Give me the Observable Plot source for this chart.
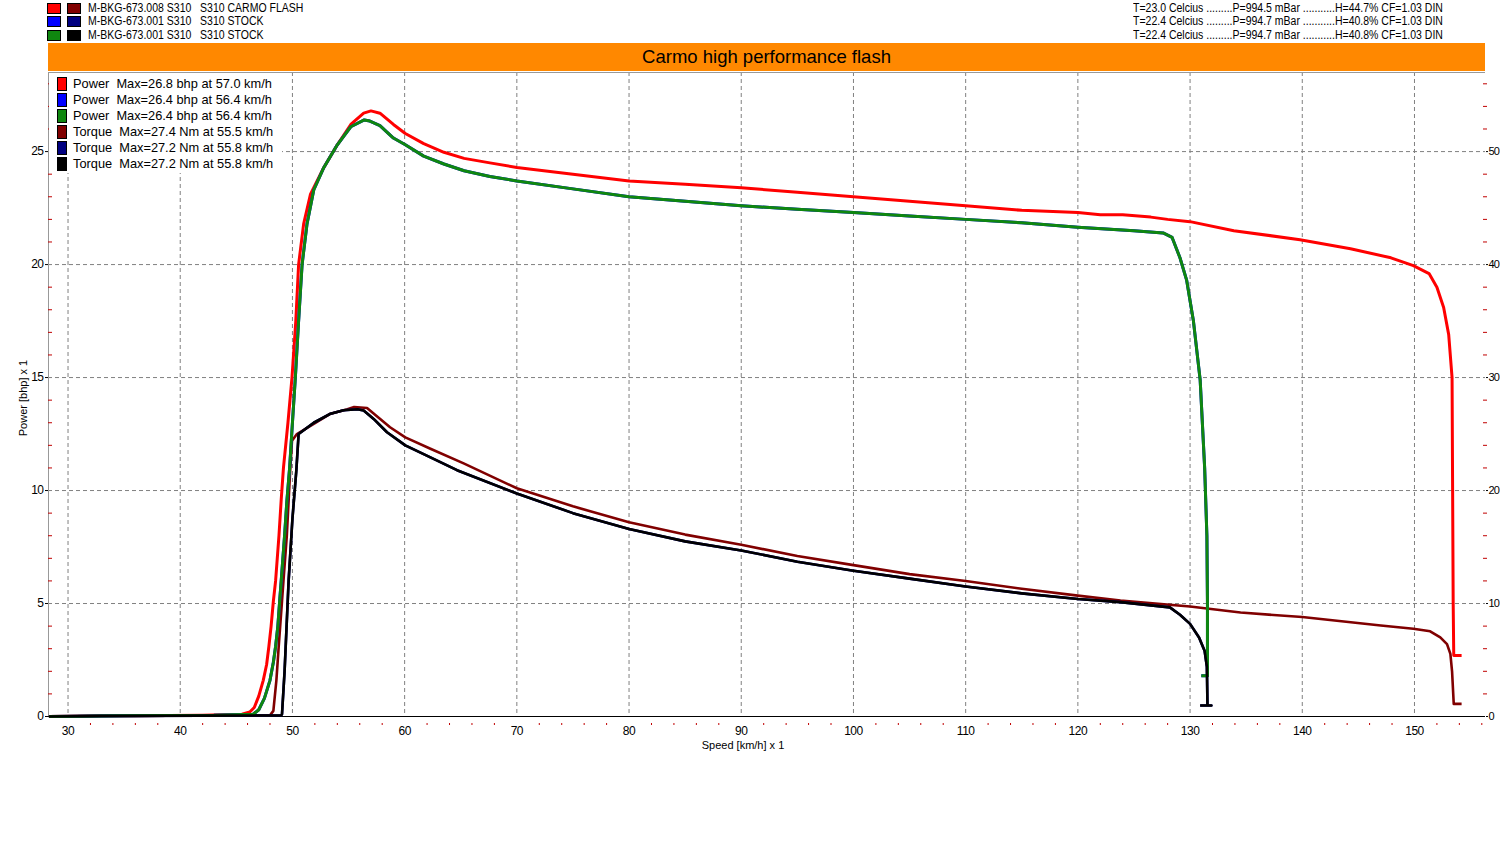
<!DOCTYPE html>
<html><head><meta charset="utf-8">
<script src="https://cdn.jsdelivr.net/npm/d3@7"></script>
<script src="https://cdn.jsdelivr.net/npm/@observablehq/plot@0.6"></script>
<style>
body{margin:0;background:#fff;}
#wrap{position:relative;width:1500px;height:850px;overflow:hidden;background:#fff;
  font-family:"Liberation Sans",Arial,sans-serif;}
#wrap svg{position:absolute;left:0;top:0;}
.hdr{position:absolute;font-size:12.5px;line-height:13px;white-space:pre;color:#000;transform:scaleX(0.84);transform-origin:0 0;}
.sw{position:absolute;width:12px;height:9px;border:1px solid #000;}
#bar{position:absolute;left:48px;top:43px;width:1437px;height:28px;background:#ff8800;
  font-size:18.5px;line-height:28px;text-align:center;color:#000;}
#leg{position:absolute;left:49px;top:73px;width:233px;height:100px;background:#fff;font-size:12.8px;}
.lrow{position:absolute;left:0;height:16px;line-height:16px;white-space:pre;}
.lsw{position:absolute;left:8px;top:1px;width:8px;height:12px;border:1px solid #000;}
.ltx{position:absolute;left:24px;top:0;}
.tk text{letter-spacing:-0.5px;}
.tkr text{letter-spacing:-0.8px;}
</style></head>
<body><div id="wrap"></div>
<script>
// ---------- data ----------
const runNames = [
  "M-BKG-673.008 S310   S310 CARMO FLASH",
  "M-BKG-673.001 S310   S310 STOCK",
  "M-BKG-673.001 S310   S310 STOCK"
];
const runConditions = [
  "T=23.0 Celcius .........P=994.5 mBar ...........H=44.7% CF=1.03 DIN",
  "T=22.4 Celcius .........P=994.7 mBar ...........H=40.8% CF=1.03 DIN",
  "T=22.4 Celcius .........P=994.7 mBar ...........H=40.8% CF=1.03 DIN"
];
const powerColors = ["#ff0000", "#0000ff", "#0f870f"];
const torqueColors = ["#800000", "#000080", "#000000"];
const legendLabels = [
  "Power  Max=26.8 bhp at 57.0 km/h",
  "Power  Max=26.4 bhp at 56.4 km/h",
  "Power  Max=26.4 bhp at 56.4 km/h",
  "Torque  Max=27.4 Nm at 55.5 km/h",
  "Torque  Max=27.2 Nm at 55.8 km/h",
  "Torque  Max=27.2 Nm at 55.8 km/h"
];
const chartTitle = "Carmo high performance flash";
const xTitle = "Speed [km/h] x 1";
const yTitle = "Power [bhp] x 1";

const majorX = [30, 40, 50, 60, 70, 80, 90, 100, 110, 120, 130, 140, 150];
const minorX = [32,34,36,38,42,44,46,48,52,54,56,58,62,64,66,68,72,74,76,78,82,84,86,88,92,94,96,98,102,104,106,108,112,114,116,118,122,124,126,128,132,134,136,138,142,144,146,148,152,154,156];
const majorY = [0, 5, 10, 15, 20, 25];
const minorY = [1,2,3,4,6,7,8,9,11,12,13,14,16,17,18,19,21,22,23,24,26,27,28];
const xDomain = [28.26, 156.33];
const yDomain = [0, 28.5];
const torqueFactor = 2; // right axis Nm = 2 x left axis units

// CARMO FLASH power (bhp)
const carmoSpeedP = [28.3,33,36,42,45.5,46.2,46.6,47.0,47.4,47.7,47.9,48.1,48.3,48.5,48.8,49.0,49.2,49.6,49.96,50.3,50.55,51.0,51.6,51.9,52.8,54.0,55.2,56.35,57.0,57.8,59.0,60.06,61.7,63.5,65.3,67.6,70,75,80,85,90,95,100,105,110,115,120,122,124,126.5,128,130,133.9,139.8,144.3,147.9,149.9,151.3,152.0,152.6,153.05,153.35,153.4,153.45,153.5,154.2];
const carmoPower  = [0,0.03,0.03,0.05,0.1,0.2,0.4,0.9,1.6,2.3,3.1,4.0,5.1,6.0,8.0,9.6,11.0,13.0,15.0,17.5,20.0,21.8,23.1,23.4,24.3,25.3,26.2,26.7,26.8,26.7,26.2,25.8,25.35,24.97,24.7,24.5,24.3,24.0,23.7,23.55,23.4,23.2,23.0,22.8,22.6,22.4,22.3,22.2,22.2,22.1,22.0,21.9,21.5,21.1,20.7,20.3,19.95,19.6,19.0,18.1,16.9,15.0,10.0,5.0,2.7,2.7];
// CARMO FLASH torque (Nm)
const carmoSpeedT = [28.3,33,42,48.0,48.3,48.57,48.77,49.07,49.2,49.5,49.8,49.96,50.4,51.9,53.4,54.9,55.5,56.65,57.5,58.7,60.06,62.3,65.26,70,75,80,85,90,95,100,105,110,115,120,123.8,130,134.5,140,147,149.9,151.4,152.3,152.9,153.2,153.35,153.5,154.2];
const carmoTorque  = [0,0.06,0.1,0.1,0.5,3.2,6.1,10.2,12.0,16.0,21.8,24.4,25.0,25.9,26.8,27.2,27.4,27.3,26.6,25.6,24.7,23.7,22.4,20.2,18.6,17.2,16.1,15.2,14.2,13.4,12.6,12.0,11.3,10.7,10.26,9.74,9.2,8.8,8.06,7.76,7.54,7.0,6.4,5.54,4.0,1.12,1.12];
// STOCK power (bhp)
const stockSpeedP = [28.3,35,43,46.5,47.0,47.5,48.0,48.3,48.5,48.7,48.86,49.0,49.3,49.5,49.75,50.0,50.26,50.55,50.86,51.3,51.9,52.8,54.0,55.2,56.4,56.9,57.8,59.0,60.06,61.7,63.5,65.3,67.6,70,75,80,85,90,95,100,105,110,115,120,125,127.6,128.4,129.1,129.7,130.3,130.9,131.3,131.5,131.55,131.55,131.0];
const stockPower  = [0,0.03,0.05,0.1,0.3,0.8,1.6,2.4,3.1,4.0,5.1,6.0,8.0,9.5,11.0,13.0,15.0,17.5,20.0,21.8,23.3,24.3,25.3,26.1,26.4,26.35,26.15,25.6,25.3,24.8,24.45,24.15,23.9,23.7,23.35,23.0,22.8,22.6,22.45,22.3,22.15,22.0,21.85,21.65,21.5,21.4,21.2,20.3,19.3,17.5,14.9,11.0,8.0,5.0,1.8,1.8];
// STOCK torque (Nm)
const stockSpeedT = [28.3,33,42,49.0,49.07,49.3,49.66,50.0,50.35,50.55,51.9,53.4,54.56,55.8,56.35,57.24,58.43,60.06,62.3,64.67,70,75,80,85,90,95,100,105,110,115,120,123.8,128.2,129.1,130.0,130.8,131.3,131.5,131.55,131.9,130.9];
const stockTorque  = [0,0.05,0.08,0.1,0.2,4.0,12.0,17.5,21.8,25.0,26.0,26.8,27.1,27.2,27.08,26.34,25.16,24.0,22.94,21.8,19.74,18.0,16.6,15.5,14.7,13.7,12.9,12.2,11.5,10.9,10.4,10.12,9.66,9.0,8.2,7.0,5.8,4.4,0.98,0.98,0.98];

// ---------- build ----------
const zip = (xs, ys) => xs.map((x, i) => ({x, y: ys[i]}));
const series = [
  {rows: zip(carmoSpeedP, carmoPower), color: powerColors[0], w: 3, torque: false},
  {rows: zip(carmoSpeedT, carmoTorque), color: torqueColors[0], w: 2.6, torque: true},
  {rows: zip(stockSpeedP, stockPower), color: powerColors[1], w: 3, torque: false},
  {rows: zip(stockSpeedT, stockTorque), color: torqueColors[1], w: 2.6, torque: true},
  {rows: zip(stockSpeedP, stockPower), color: powerColors[2], w: 3, torque: false},
  {rows: zip(stockSpeedT, stockTorque), color: torqueColors[2], w: 2.6, torque: true}
];

const gridStyle = {stroke: "#808080", strokeOpacity: 1, strokeWidth: 1, strokeDasharray: "4,3"};

const chart = Plot.plot({
  width: 1500, height: 850,
  marginLeft: 48, marginRight: 15, marginTop: 72, marginBottom: 134,
  style: {fontFamily: '"Liberation Sans",Arial,sans-serif', fontSize: "12px", background: "transparent", overflow: "visible", color: "#000"},
  x: {domain: xDomain, axis: null},
  y: {domain: yDomain, axis: null},
  marks: [
    Plot.gridX(majorX, gridStyle),
    Plot.gridY(majorY.filter(d => d > 0), gridStyle),
    Plot.ruleX([xDomain[0]], {stroke: "#999"}),
    Plot.ruleY([yDomain[1]], {stroke: "#999"}),
    Plot.ruleY([0], {stroke: "#000", strokeWidth: 1.2}),
    // minor ticks
    Plot.axisY({anchor: "left", ticks: minorY, tickSize: 4, dx: 4, stroke: "#c00000", tickFormat: () => "", label: null}),
    Plot.axisY({anchor: "right", ticks: minorY, tickSize: 4, dx: -3, stroke: "#c00000", tickFormat: () => "", label: null}),
    Plot.axisX({anchor: "bottom", ticks: minorX, tickSize: 2, dy: 7, stroke: "#c00000", tickFormat: () => "", label: null}),
    // major axes
    Plot.axisY({anchor: "left", ticks: majorY, tickSize: 3, tickPadding: 2, label: null, tickFormat: d => String(d), className: "tk"}),
    Plot.axisY({anchor: "right", ticks: majorY, tickSize: 2, tickPadding: 1, fontSize: 11, label: null, tickFormat: d => String(d * torqueFactor), className: "tkr"}),
    Plot.axisX({anchor: "bottom", ticks: majorX, tickSize: 0, tickPadding: 10, label: null, tickFormat: d => String(d), className: "tk"}),
    // curves
    ...series.map(s => Plot.line(s.rows, {
      x: "x", y: s.torque ? (d => d.y / torqueFactor) : "y",
      stroke: s.color, strokeWidth: s.w, strokeLinejoin: "round", strokeLinecap: "butt"
    })),
    // axis titles
    Plot.text([xTitle], {frameAnchor: "bottom", lineAnchor: "middle", textAnchor: "middle", dx: -24, dy: 29, fontSize: 11}),
    Plot.text([yTitle], {frameAnchor: "left", lineAnchor: "middle", textAnchor: "middle", rotate: -90, dx: -25.5, dy: 3.5, fontSize: 11})
  ]
});

const wrap = document.getElementById("wrap");
wrap.appendChild(chart);

// header legend (runs + conditions)
runNames.forEach((name, i) => {
  const top = 3 + i * 13.3;
  const s1 = document.createElement("div");
  s1.className = "sw"; s1.style.left = "47px"; s1.style.top = top + "px"; s1.style.background = powerColors[i];
  const s2 = document.createElement("div");
  s2.className = "sw"; s2.style.left = "67px"; s2.style.top = top + "px"; s2.style.background = torqueColors[i];
  const t = document.createElement("div");
  t.className = "hdr"; t.style.left = "88px"; t.style.top = (top - 1) + "px"; t.textContent = name;
  const c = document.createElement("div");
  c.className = "hdr"; c.style.left = "1133px"; c.style.top = (top - 1) + "px"; c.textContent = runConditions[i];
  wrap.append(s1, s2, t, c);
});

// orange title bar
const bar = document.createElement("div");
bar.id = "bar"; bar.textContent = chartTitle;
wrap.appendChild(bar);

// in-plot legend
const leg = document.createElement("div");
leg.id = "leg";
const legColors = [...powerColors, ...torqueColors];
legendLabels.forEach((lab, i) => {
  const r = document.createElement("div");
  r.className = "lrow"; r.style.top = (3 + i * 16) + "px";
  const sw = document.createElement("div");
  sw.className = "lsw"; sw.style.background = legColors[i];
  const tx = document.createElement("div");
  tx.className = "ltx"; tx.textContent = lab;
  r.append(sw, tx);
  leg.appendChild(r);
});
wrap.appendChild(leg);
</script>
</body></html>
